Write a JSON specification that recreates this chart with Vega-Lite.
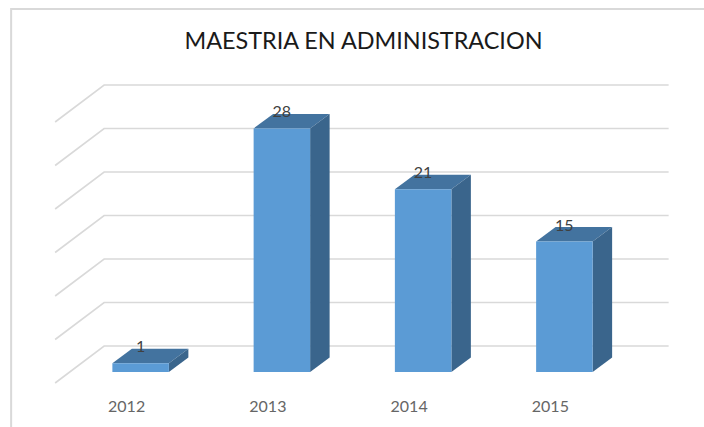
{
"$schema":"https://vega.github.io/schema/vega-lite/v6.json",
"width":565,"height":261,
"autosize":{"type":"none"},
"padding":{"left":70,"top":111,"right":69,"bottom":55},
"background":"white",
"view":{"stroke":null},
"config":{"font":"Lato"},
"title":{"text":"MAESTRIA EN ADMINISTRACION","font":"Lato","fontSize":23.4,"fontWeight":"normal","color":"#1a1a1a","anchor":"middle","dx":11,"offset":-49},
"datasets":{
"bars":[{"year":"2012","value":1},{"year":"2013","value":28},{"year":"2014","value":21},{"year":"2015","value":15}],
"grid":[{"tick":0},{"tick":5},{"tick":10},{"tick":15},{"tick":20},{"tick":25},{"tick":30}]
},
"encoding":{
"x":{"field":"year","type":"nominal","scale":{"domain":["2012","2013","2014","2015"],"paddingInner":0.6,"paddingOuter":0.3},"axis":{"title":null,"labelAngle":0,"domain":false,"ticks":false,"grid":false,"labelFontSize":16,"labelColor":"#666666","labelPadding":26,"labelOffset":-14,"labelFont":"Lato"}},
"y":{"field":"value","type":"quantitative","scale":{"domain":[0,30],"nice":false},"axis":null}
},
"layer":[
{"data":{"name":"grid"},
 "mark":{"type":"point","filled":false,"stroke":"#d9d9d9","strokeWidth":1.6,"opacity":1,"size":4},
 "encoding":{"x":{"datum":"2012","type":"nominal"},"y":{"field":"tick","type":"quantitative"},
 "shape":{"value":"M-85.5,11L-36.5,-26L528,-26"}}},
{"data":{"values":[{"tick":0}]},
 "mark":{"type":"point","filled":false,"stroke":"#d9d9d9","strokeWidth":2,"opacity":1,"size":4},
 "encoding":{"x":{"datum":"2012","type":"nominal"},"y":{"field":"tick","type":"quantitative"},
 "shape":{"value":"M-129.5,56L-129.5,-363L564,-363"}}},
{"data":{"name":"bars"},
 "mark":{"type":"point","filled":true,"fill":"#43739f","opacity":1,"size":4,"strokeWidth":0},
 "encoding":{"shape":{"value":"M-28.25,0L-8.75,-14.5L47.75,-14.5L28.25,0Z"}}},
{"data":{"name":"bars"},
 "mark":{"type":"point","filled":true,"fill":"#3a658c","opacity":1,"size":4,"strokeWidth":0},
 "encoding":{"shape":{"field":"year","type":"nominal","legend":null,"scale":{"domain":["2012","2013","2014","2015"],"range":["M28.25,0L47.75,-14.5L47.75,-5.8L28.25,8.7Z","M28.25,0L47.75,-14.5L47.75,229.1L28.25,243.6Z","M28.25,0L47.75,-14.5L47.75,168.2L28.25,182.7Z","M28.25,0L47.75,-14.5L47.75,116L28.25,130.5Z"]}}}},
{"data":{"name":"bars"},
 "mark":{"type":"bar","color":"#5b9bd5","width":{"band":1}}},
{"data":{"name":"bars"},
 "mark":{"type":"text","fontSize":16,"color":"#404040","dy":-16,"font":"Lato"},
 "encoding":{"text":{"field":"value","type":"quantitative"}}}
]
}
